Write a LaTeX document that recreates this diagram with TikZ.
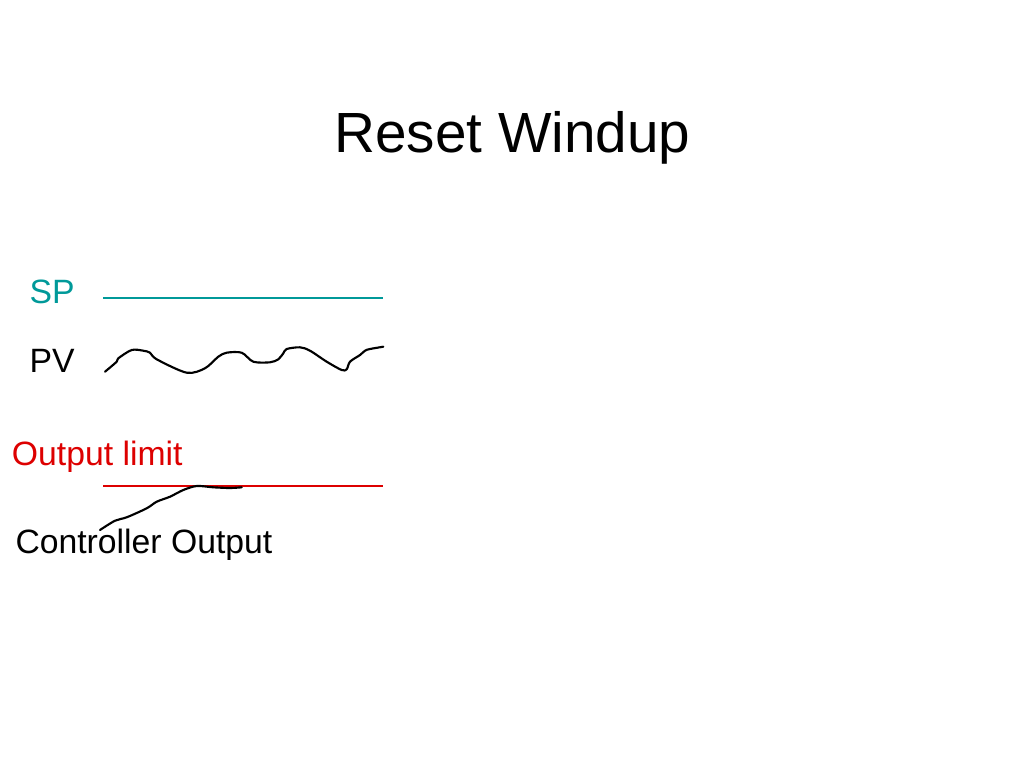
\documentclass[tikz,border=0pt]{standalone}
\usepackage{fontspec}
\setmainfont{Liberation Sans}
\definecolor{spteal}{RGB}{0,153,153}
\definecolor{limred}{RGB}{221,0,0}
\tikzset{every picture/.style={line width=0.75pt}}
\tikzset{
  label text/.style={anchor=base west, inner sep=0pt, font=\fontsize{25.3}{30}\selectfont},
  trend/.style={line width=1.6pt, line join=round, line cap=round},
}

\begin{document}
\begin{tikzpicture}[x=0.75pt,y=0.75pt,yscale=-1,xscale=1]
\useasboundingbox (0,0) rectangle (1024,768);

% Title
\node (title) [anchor=base, inner sep=0pt, font=\fontsize{42.5}{50}\selectfont] at (512.5,152) {Reset Windup};

% Text Node
\node (sp) [label text, text=spteal] at (29,303) {SP};
% Text Node
\node (pv) [label text] at (29,372) {PV};
% Text Node
\node (outlim) [label text, text=limred] at (11.5,465.5) {Output limit};
% Text Node
\node (cout) [label text] at (15,553.5) {Controller Output};

%Straight Lines
\draw [spteal, line width=1.5pt] (103,298) -- (383,298) ;
%Straight Lines
\draw [limred, line width=1.5pt] (103,486) -- (383,486) ;

%Curve Lines
\draw [trend] plot [smooth, tension=0.5] coordinates {(105,371.7) (116.7,361.7) (118.3,358.3) (131.7,350) (143.3,350.7) (150,352.7) (156.7,359.3) (186.7,372.7) (205,368.3) (218.3,356.7) (226.7,352.7) (241.7,352.7) (253.3,361.7) (270,362.3) (278.3,359.3) (283.3,353.3) (286.7,349) (300,347.3) (310,350.7) (326.7,361.7) (341.7,370) (346.7,369.3) (350,361.7) (360,355) (365,350.7) (370,349) (383.3,346.7)};
%Curve Lines
\draw [trend] plot [smooth, tension=0.5] coordinates {(100,530) (115,520.7) (126.7,517.3) (146.7,508.3) (156.7,501.7) (170,496.7) (183.3,490) (196.7,486) (213.3,487.3) (230,488) (241.7,487.3)};

\end{tikzpicture}
\end{document}
